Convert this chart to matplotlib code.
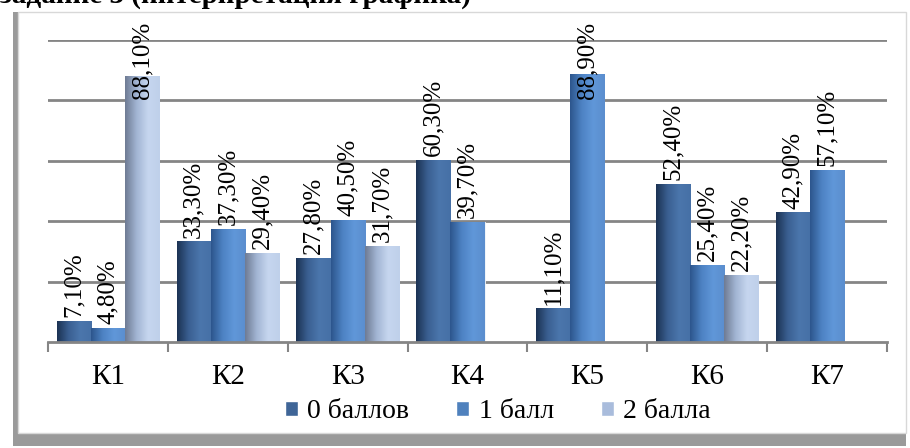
import numpy as np
import matplotlib.pyplot as plt
from matplotlib.colors import LinearSegmentedColormap
from matplotlib.patches import Rectangle

plt.rcParams['font.family'] = ['Liberation Serif', 'DejaVu Serif']

categories = ['К1', 'К2', 'К3', 'К4', 'К5', 'К6', 'К7']
series_names = ['0 баллов', '1 балл', '2 балла']
vals_0 = [7.1, 33.3, 27.8, 60.3, 11.1, 52.4, 42.9]
vals_1 = [4.8, 37.3, 40.5, 39.7, 88.9, 25.4, 57.1]
vals_2 = [88.1, 29.4, 31.7, np.nan, np.nan, 22.2, np.nan]
all_vals = [vals_0, vals_1, vals_2]

# colours: legend colour + gradient (left edge -> right edge)
face = ['#3f6597', '#4f81bd', '#a9bcdc']
grads = [['#1c3354', '#3a5f91', '#4b76ac', '#4670a6'],
         ['#2d568d', '#4d82c3', '#6097d9', '#5b8ece'],
         ['#6f7c94', '#a2b5d3', '#c6d6ef', '#bfd0ea']]

W, H = 910, 448
fig = plt.figure(figsize=(W / 100, H / 100), dpi=100)

# frame with shadow
fig.patches.append(Rectangle((13 / W, 1 - 446 / H), (906 - 13) / W, (446 - 12) / H,
                             transform=fig.transFigure, facecolor='#9a9a9a',
                             edgecolor='none', zorder=0))
fig.patches.append(Rectangle((18 / W, 1 - 433 / H), (906 - 18) / W, (433 - 12) / H,
                             transform=fig.transFigure, facecolor='white',
                             edgecolor='#d8d8d8', lw=1, zorder=0))

# heading of the page, cut by the top edge as in the source
fig.text(0.0, 1 - 3 / H, 'задание 3 (интерпретация графика)', fontsize=21,
         fontweight='bold', va='baseline', ha='left')

ax = fig.add_axes([48 / W, 1 - 342 / H, (887 - 48) / W, (342 - 40) / H])
ax.set_zorder(2)
ax.set_facecolor('none')

for y in range(20, 101, 20):
    ax.axhline(y, color='#858585', lw=2, zorder=1)

bw = 0.285
x = np.arange(len(categories))
for i, vals in enumerate(all_vals):
    cmap = LinearSegmentedColormap.from_list('g%d' % i, grads[i])
    grad = np.linspace(0, 1, 64).reshape(1, -1)
    for j, v in enumerate(vals):
        if np.isnan(v):
            continue
        xc = x[j] + (i - 1) * bw
        bar = ax.bar(xc, v, bw, color=face[i], edgecolor='white', lw=0.6, zorder=2)[0]
        im = ax.imshow(grad, extent=[xc - bw / 2, xc + bw / 2, 0, v], aspect='auto',
                       cmap=cmap, zorder=2.5)
        im.set_clip_path(bar)
        # data label, kept inside the frame
        txt = ('%.2f%%' % v).replace('.', ',')
        if v + 27.5 > 106:
            ax.text(xc, 106, txt, rotation=90, ha='center', va='top', fontsize=18,
                    zorder=4, clip_on=False)
        else:
            ax.text(xc, v + 1.3, txt, rotation=90, ha='center', va='bottom', fontsize=18,
                    zorder=4, clip_on=False)

ax.set_xlim(-0.5, len(categories) - 0.5)
ax.set_ylim(0, 100)

for s in ['top', 'right', 'left']:
    ax.spines[s].set_visible(False)
ax.spines['bottom'].set_color('#858585')
ax.spines['bottom'].set_linewidth(2)
ax.spines['bottom'].set_zorder(3)

ax.set_yticks([])
ax.set_xticks(x)
ax.set_xticklabels(categories, fontsize=21)
ax.tick_params(axis='x', which='major', length=0, pad=16)
ax.set_xticks(np.arange(-0.5, len(categories)), minor=True)
ax.tick_params(axis='x', which='minor', length=7, width=1.5, color='#858585')

handles = [Rectangle((0, 0), 1, 1, facecolor=c, edgecolor='white') for c in face]
fig.legend(handles, series_names, loc='center', bbox_to_anchor=(498 / W, 1 - 412 / H),
           ncol=3, frameon=False, fontsize=20, handlelength=0.45, handleheight=0.45,
           handletextpad=0.35, columnspacing=1.7)

fig.savefig('out.png', dpi=100)
